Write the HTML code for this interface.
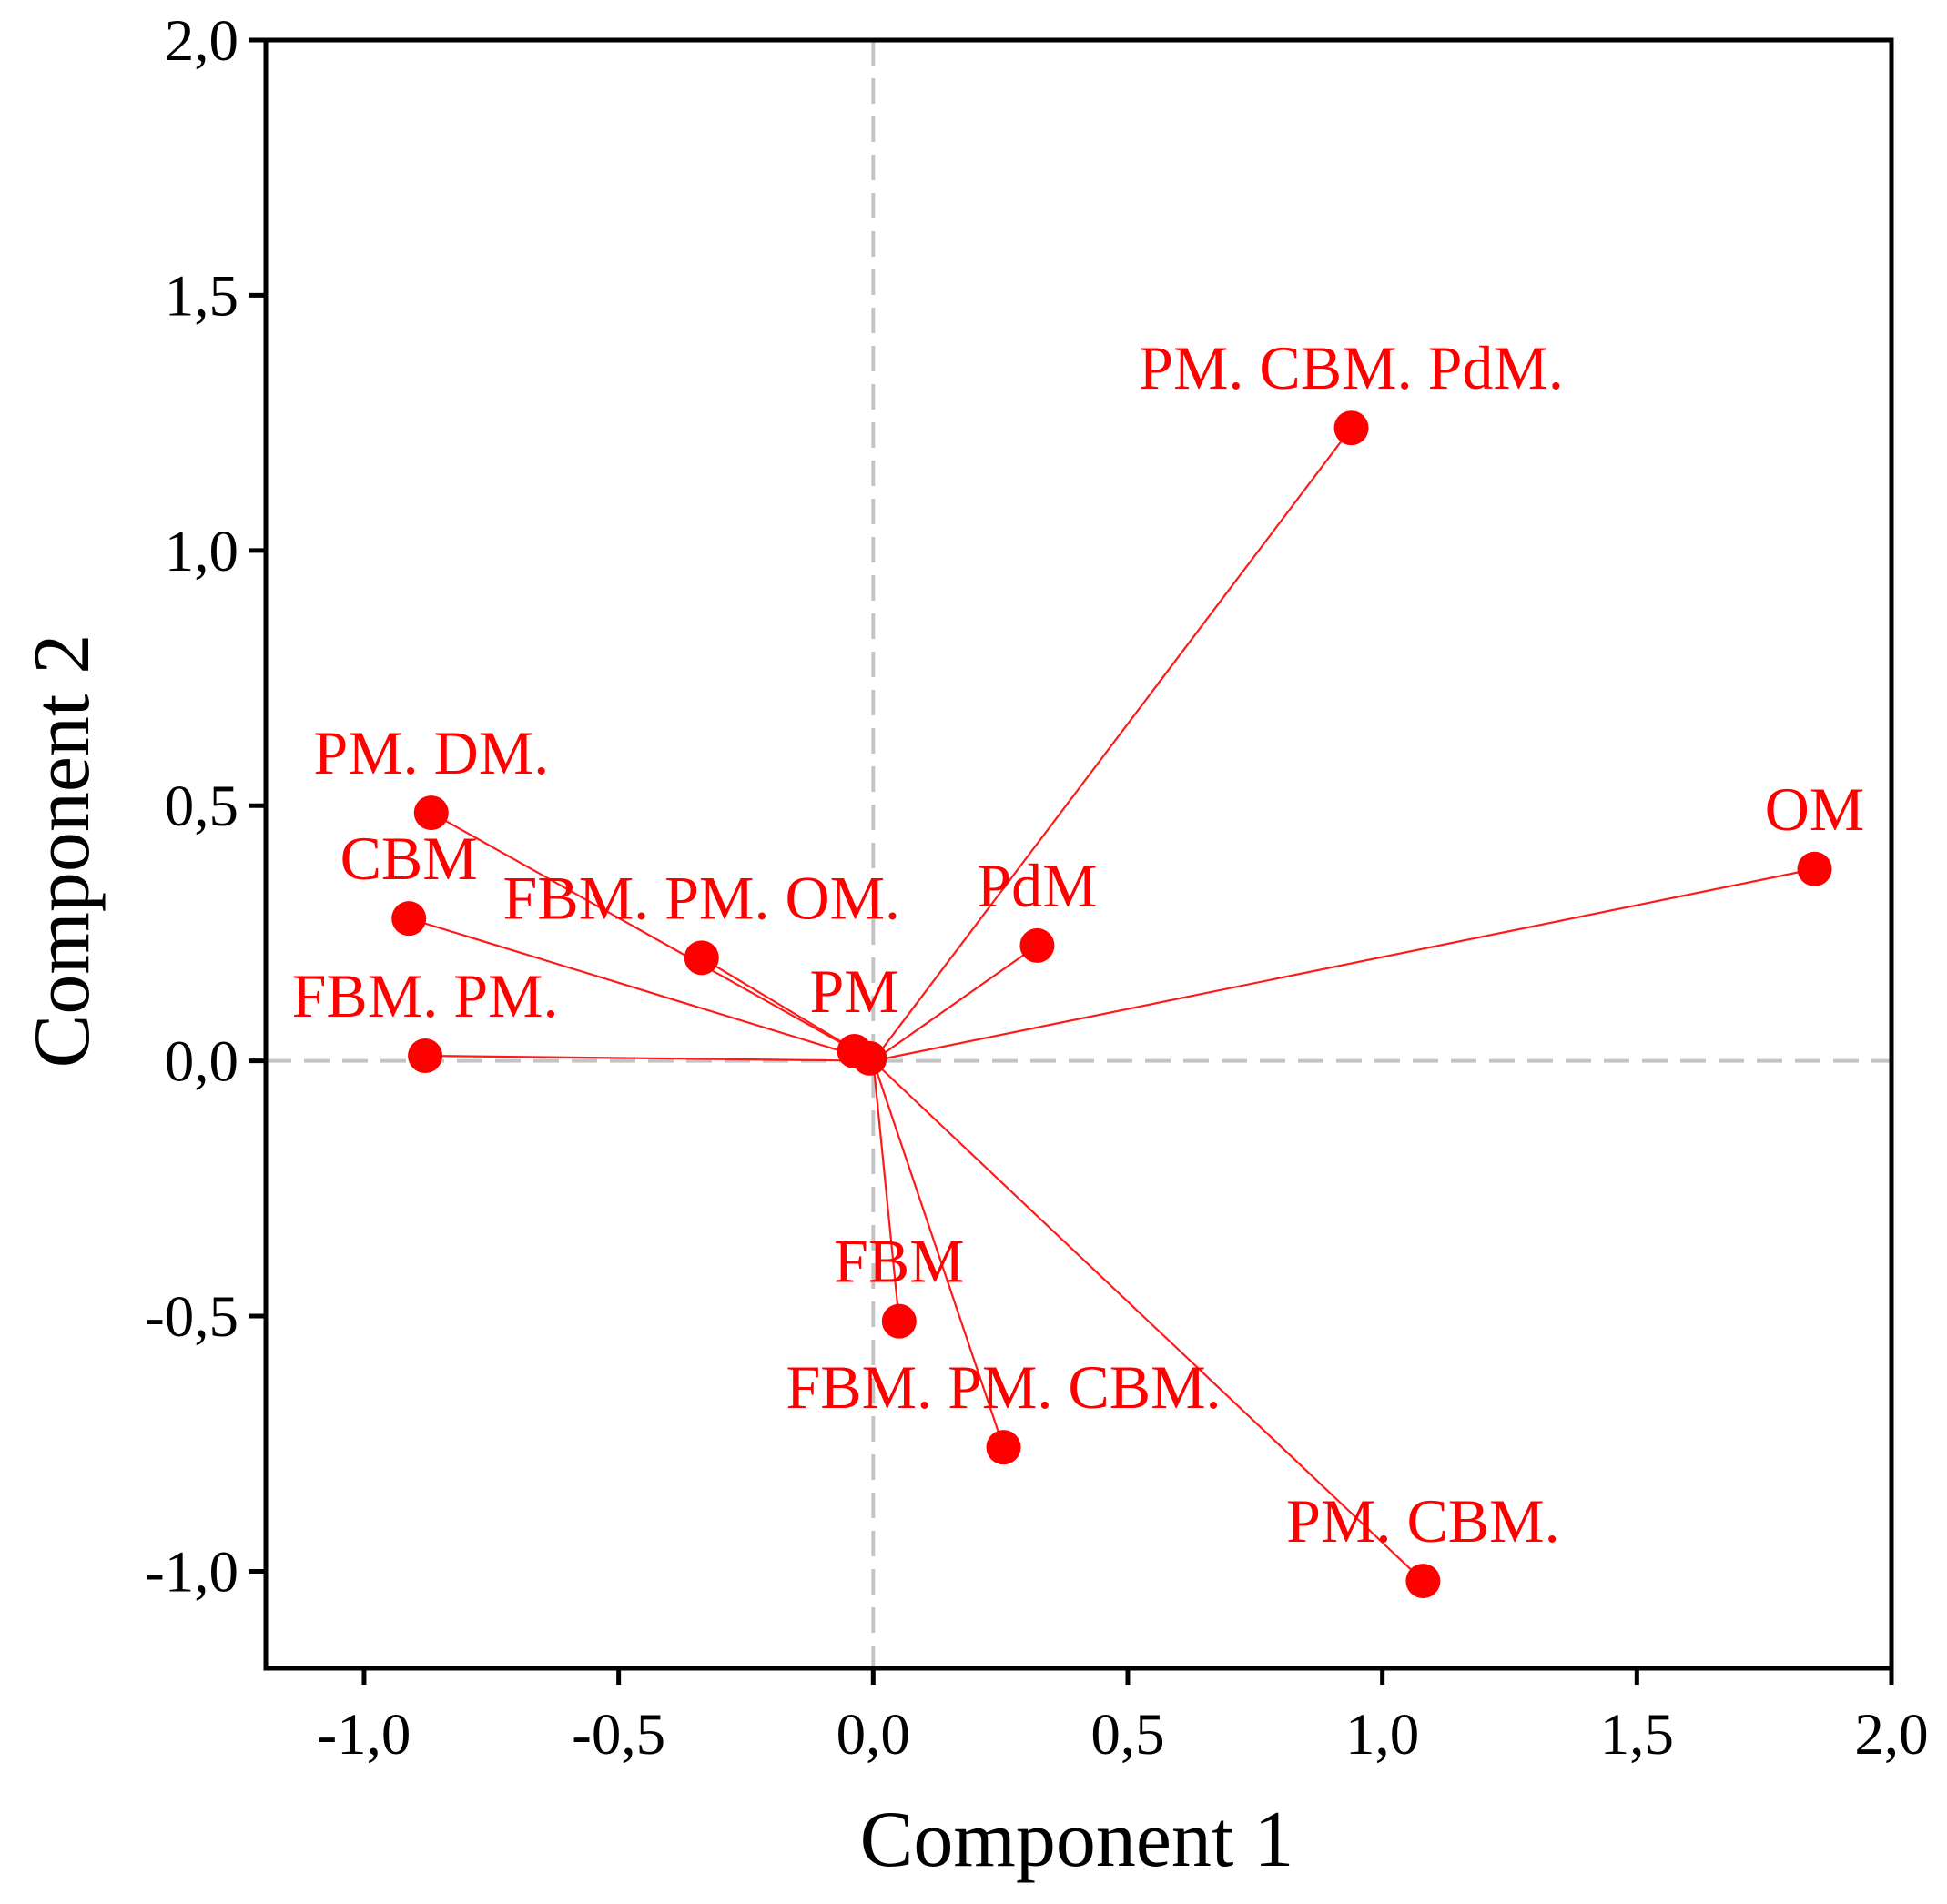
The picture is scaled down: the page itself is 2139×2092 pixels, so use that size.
<!DOCTYPE html>
<html><head><meta charset="utf-8"><style>
html,body{margin:0;padding:0;background:#fff}
svg{display:block}
text{font-family:"Liberation Serif",serif}
</style></head><body>
<svg id="chart" width="2139" height="2092" viewBox="0 0 2139 2092">
<g id="grid"></g><g id="series"></g><g id="axes"></g>
</svg>
<script>
const labels = ["PM. CBM. PdM.","OM","PM. DM.","CBM","FBM. PM. OM.","PdM","FBM. PM.","PM","","FBM","FBM. PM. CBM.","PM. CBM."];
const comp1 = [0.939,1.849,-0.868,-0.912,-0.337,0.322,-0.880,-0.037,-0.007,0.051,0.256,1.080];
const comp2 = [1.240,0.376,0.486,0.279,0.202,0.226,0.010,0.019,0.005,-0.510,-0.757,-1.019];
const xTicks = [-1.0,-0.5,0.0,0.5,1.0,1.5,2.0];
const yTicks = [-1.0,-0.5,0.0,0.5,1.0,1.5,2.0];
const xTickLabels = ["-1,0","-0,5","0,0","0,5","1,0","1,5","2,0"];
const yTickLabels = ["-1,0","-0,5","0,0","0,5","1,0","1,5","2,0"];

const L=292,R=2078,T=44,B=1833;
const xMin=-1.193,xMax=2.0,yMin=-1.19,yMax=2.0;
const sx=v=>L+(v-xMin)/(xMax-xMin)*(R-L);
const sy=v=>B-(v-yMin)/(yMax-yMin)*(B-T);
const NS="http://www.w3.org/2000/svg";
function mk(tag,attrs,parent){const e=document.createElementNS(NS,tag);for(const k in attrs)e.setAttribute(k,attrs[k]);parent.appendChild(e);return e;}
const grid=document.getElementById('grid'),series=document.getElementById('series'),axes=document.getElementById('axes');

let g=mk('line',{x1:sx(0),x2:sx(0),y1:T,y2:B,stroke:'#c4c4c4','stroke-width':4,'stroke-dasharray':'28 14'},grid);


g=mk('line',{x1:L,x2:R,y1:sy(0),y2:sy(0),stroke:'#c4c4c4','stroke-width':4,'stroke-dasharray':'28 14'},grid);



for(let i=0;i<comp1.length;i++){
  const ln=mk('line',{x1:sx(0),y1:sy(0),x2:sx(comp1[i]),y2:sy(comp2[i]),stroke:'#ff1a1a','stroke-width':2.2},series);
  
  
}
for(let i=0;i<comp1.length;i++){
  const c=mk('circle',{cx:sx(comp1[i]),cy:sy(comp2[i]),r:19,fill:'#ff0000'},series);
  
  
  if(labels[i]){
    const t=mk('text',{x:sx(comp1[i]),y:sy(comp2[i])-43,'text-anchor':'middle','font-size':68,fill:'#ff0000'},series);
    t.textContent=labels[i];
    
    
  }
}

const fr=mk('rect',{x:L,y:T,width:R-L,height:B-T,fill:'none',stroke:'#000','stroke-width':5},axes);


xTicks.forEach((v,i)=>{
  const tk=mk('line',{x1:sx(v),x2:sx(v),y1:B,y2:B+18,stroke:'#000','stroke-width':5},axes);
  
  
  const t=mk('text',{x:sx(v),y:1927,'text-anchor':'middle','font-size':65,fill:'#000'},axes);
  t.textContent=xTickLabels[i];
  
  
});
yTicks.forEach((v,i)=>{
  const tk=mk('line',{x1:L-18,x2:L,y1:sy(v),y2:sy(v),stroke:'#000','stroke-width':5},axes);
  
  
  const t=mk('text',{x:262,y:sy(v)+22,'text-anchor':'end','font-size':65,fill:'#000'},axes);
  t.textContent=yTickLabels[i];
  
  
});
let t=mk('text',{x:1183,y:2050,'text-anchor':'middle','font-size':88,fill:'#000'},axes);
t.textContent='Component 1';


t=mk('text',{x:0,y:0,transform:'translate(97,935) rotate(-90)','text-anchor':'middle','font-size':88,fill:'#000'},axes);
t.textContent='Component 2';


</script>
</body></html>
